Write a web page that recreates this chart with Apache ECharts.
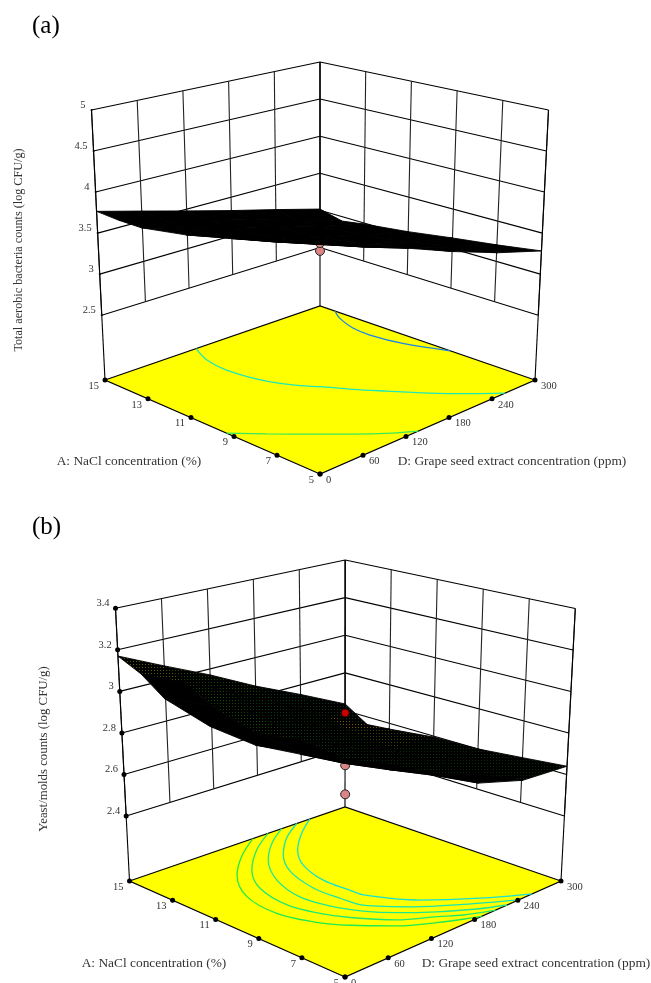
<!DOCTYPE html>
<html>
<head>
<meta charset="utf-8">
<style>html,body{margin:0;padding:0;background:#fff}#c{width:651px;height:983px}</style>
<script src="https://cdn.jsdelivr.net/npm/echarts@6/dist/echarts.min.js"></script>
</head>
<body>
<div id="c"></div>
<script>
// ---------- data ----------
const naclTicks = [5, 7, 9, 11, 13, 15];
const grapeTicks = [0, 60, 120, 180, 240, 300];
const aerobicTicks = [2.5, 3, 3.5, 4, 4.5, 5];
const yeastTicks = [2.4, 2.6, 2.8, 3, 3.2, 3.4];

const surfaceNacl = [5, 7, 9, 11, 13, 14, 15];
const surfaceGrape = [0, 60, 120, 180, 240, 300];

const aerobicSurface = [
  [4.28, 4.086, 3.876, 3.658, 3.456, 3.283],
  [4.134, 3.93, 3.73, 3.55, 3.37, 3.205],
  [3.99, 3.79, 3.60, 3.43, 3.27, 3.135],
  [3.854, 3.66, 3.50, 3.34, 3.19, 3.054],
  [3.755, 3.59, 3.44, 3.29, 3.13, 2.987],
  [3.75, 3.60, 3.45, 3.30, 3.12, 2.942],
  [3.765, 3.625, 3.478, 3.327, 3.178, 3.017]
];
const yeastSurface = [
  [3.047, 2.95, 2.84, 2.72, 2.654, 2.64],
  [3.0, 2.89, 2.79, 2.69, 2.62, 2.62],
  [2.97, 2.87, 2.77, 2.67, 2.60, 2.60],
  [2.983, 2.89, 2.79, 2.69, 2.61, 2.595],
  [3.04, 2.95, 2.85, 2.74, 2.64, 2.57],
  [3.12, 3.02, 2.92, 2.80, 2.68, 2.56],
  [3.17, 3.07, 2.97, 2.855, 2.75, 2.635]
];

const aerobicBelow = [[10, 150, 3.344], [10, 150, 3.44]];
const aerobicAbove = [];
const yeastBelow = [[10, 150, 2.531], [10, 150, 2.671]];
const yeastAbove = [[10, 150, 2.923]];

const aerobicContours = [
  [[14.3,300],[13.71,289],[12.77,279],[11.91,277],[10.58,283],[8.95,300]],
  [[15,127],[14.06,114],[13.02,110],[11.45,119],[10.42,135],[9.9,147],[8.97,165],[8.05,185],[6.7,214],[5.86,235],[5,258]],
  [[9.34,0],[8.4,28],[7.175,65],[6.4,88],[5.65,112],[5,137]]
];
const yeastContours = [
  [[15,251],[14.25,217],[13.3,183],[12.24,159],[10.88,146],[9.68,147],[9.08,148],[7.44,177],[6.06,220],[5,260]],
  [[15,233],[14.28,197],[13.3,163],[12.13,138],[10.62,125],[9.43,126],[8.5,130],[7.22,161],[6.13,198],[5,241]],
  [[15,212],[14.29,177],[13.33,143],[11.93,113],[10.43,100],[9.2,106],[8.16,120],[7.28,140],[6.37,168],[5.53,199],[5,225]],
  [[15,193],[14.2,153],[13.09,113],[11.8,86],[10.25,77],[9.03,86],[8.1,100],[6.86,128],[6.08,160],[5.53,180],[5,209]],
  [[15,172],[14.2,133],[13.11,93],[11.62,62],[10.0,55],[8.71,67],[7.67,87],[6.53,118],[5.75,150],[5.18,179],[5,190]]
];

// ---------- panel layout (screen placement of the 3D box) ----------
const panels = [
  {
    letter: '(a)', letterPos: [32, 26],
    yTitle: 'Total aerobic bacteria counts (log CFU/g)', yTitlePos: [19, 250], yTitleSize: 12.2,
    aTitlePos: [129, 461], dTitlePos: [512, 461],
    floor: { front: [320, 474], left: [105, 380], right: [535, 380], back: [320, 306] },
    top: { front: [320, 178], left: [91.5, 110], right: [548.5, 110], back: [320, 62] },
    zFloor: 1.71, zTop: 5, zTicks: aerobicTicks, surface: aerobicSurface,
    below: aerobicBelow, above: aerobicAbove, contours: aerobicContours,
    contourColors: ['#1a86e8', '#1fe8b8', '#3be85c'], zTickSize: 2, dots: false
  },
  {
    letter: '(b)', letterPos: [32, 527],
    yTitle: 'Yeast/molds counts (log CFU/g)', yTitlePos: [44, 749], yTitleSize: 12.8,
    aTitlePos: [154, 963], dTitlePos: [536, 963],
    floor: { front: [345, 977], left: [129.5, 881], right: [561, 881], back: [345, 807] },
    top: { front: [345, 679], left: [115.5, 608.3], right: [575.3, 608.5], back: [345.2, 560] },
    zFloor: 2.087, zTop: 3.4, zTicks: yeastTicks, surface: yeastSurface,
    below: yeastBelow, above: yeastAbove, contours: yeastContours,
    contourColors: ['#18e0d0', '#18e4b0', '#20e890', '#20e870', '#20e850'], zTickSize: 5, dots: true
  }
];

// ---------- projection ----------
function bil(c, s, t, k) {
  return (1 - s) * (1 - t) * c.front[k] + s * (1 - t) * c.left[k] + (1 - s) * t * c.right[k] + s * t * c.back[k];
}
function project(p, A, D, z) {
  const s = (A - 5) / 10, t = D / 300, h = (z - p.zFloor) / (p.zTop - p.zFloor);
  return [0, 1].map(k => bil(p.floor, s, t, k) * (1 - h) + bil(p.top, s, t, k) * h);
}

function dotPattern(color) {
  const cv = document.createElement('canvas');
  cv.width = 3; cv.height = 3;
  const g = cv.getContext('2d');
  g.fillStyle = '#000'; g.fillRect(0, 0, 3, 3);
  g.fillStyle = color; g.fillRect(1, 1, 1, 1);
  return { image: cv, repeat: 'repeat' };
}
const patterns = {};
function patternFor(c) { return patterns[c] || (patterns[c] = dotPattern(c)); }
function cellFill(p, A, D, z) {
  if (!p.dots) return '#000';
  const s = (A - 5) / 10, t = D / 300;
  if (s > 0.9 && t > 0.8) return patternFor('#0a3a1c');
  if (s > 0.8 && t > 0.8) return patternFor('#7a5c00');
  if (s > 0.6 && t > 0.8) return patternFor('#3a4400');
  if (s + t < 1.0) return '#000';
  if (z > 3.0) return patternFor('#5a5800');
  if (z > 2.85) return patternFor('#1a4608');
  if (z > 2.72) return patternFor('#0a3a1c');
  return patternFor('#0c300a');
}

// ---------- series builders ----------
const series = [];
const TEXT = '#333';
const FONT = '"Liberation Serif","Times New Roman",serif';

function lineSeries(pts, color, width, z, smooth) {
  series.push({
    type: 'line', data: pts, showSymbol: false, symbol: 'none', silent: true, animation: false,
    lineStyle: { color, width }, smooth: smooth || false, z, clip: false
  });
}
function polySeries(polys, z) {
  series.push({
    type: 'custom', coordinateSystem: 'cartesian2d', silent: true, animation: false, z, clip: false,
    data: polys.map((q, i) => [q.pts[0][0], q.pts[0][1], i]),
    renderItem(params, api) {
      const q = polys[params.dataIndex];
      return {
        type: 'polygon',
        shape: { points: q.pts.map(c => api.coord(c)) },
        style: { fill: q.fill, stroke: q.stroke || null, lineWidth: q.lw || 0 }
      };
    }
  });
}
function pointSeries(pts, size, color, border, z) {
  series.push({
    type: 'scatter', data: pts, symbol: 'circle', symbolSize: size, silent: true, animation: false, z, clip: false,
    itemStyle: { color, borderColor: border, borderWidth: border ? 1 : 0, opacity: 1 }
  });
}
function textSeries(items, z) {
  series.push({
    type: 'custom', coordinateSystem: 'cartesian2d', silent: true, animation: false, z, clip: false,
    data: items.map(it => [it.at[0], it.at[1]]),
    renderItem(params, api) {
      const it = items[params.dataIndex];
      const c = api.coord(it.at);
      return {
        type: 'text', x: c[0] + it.dx, y: c[1] + it.dy,
        style: { text: it.text, fill: TEXT, font: '10.5px ' + FONT, align: it.align, verticalAlign: 'middle' }
      };
    }
  });
}

const graphic = [];
panels.forEach(p => {
  const zLow = p.zTicks[0], zHigh = p.zTicks[p.zTicks.length - 1];
  // walls: A = 15 plane (left) and D = 300 plane (right)
  p.zTicks.forEach(z => {
    lineSeries([project(p, 15, 0, z), project(p, 15, 300, z), project(p, 5, 300, z)], '#000', 1.1, 2);
  });
  grapeTicks.forEach(D => lineSeries([project(p, 15, D, zLow), project(p, 15, D, zHigh)], '#222', 1.1, 2));
  naclTicks.forEach(A => lineSeries([project(p, A, 300, zLow), project(p, A, 300, zHigh)], '#222', 1.1, 2));
  // edges that run down to the floor
  lineSeries([project(p, 15, 0, p.zFloor), project(p, 15, 0, zHigh)], '#000', 1.1, 2);
  lineSeries([project(p, 15, 300, p.zFloor), project(p, 15, 300, zHigh)], '#000', 1.1, 2);
  lineSeries([project(p, 5, 300, p.zFloor), project(p, 5, 300, zHigh)], '#000', 1.1, 2);
  // floor
  polySeries([{
    pts: [project(p, 5, 0, p.zFloor), project(p, 15, 0, p.zFloor), project(p, 15, 300, p.zFloor), project(p, 5, 300, p.zFloor)],
    fill: '#ffff00', stroke: '#000', lw: 1.2
  }], 3);
  p.contours.forEach((c, i) => {
    lineSeries(c.map(a => project(p, a[0], a[1], p.zFloor)), p.contourColors[i], 1.3, 4, 0.35);
  });
  // ticks on floor
  pointSeries(naclTicks.map(A => project(p, A, 0, p.zFloor)).concat(grapeTicks.map(D => project(p, 5, D, p.zFloor))), 5, '#000', null, 5);
  pointSeries(p.zTicks.map(z => project(p, 15, 0, z)), p.zTickSize, '#000', null, 5);
  // design points under the surface
  pointSeries(p.below.map(b => project(p, b[0], b[1], b[2])), 9, '#d98585', '#222', 6);
  // surface, far cells first
  const cells = [];
  for (let i = surfaceNacl.length - 2; i >= 0; i--) {
    for (let j = surfaceGrape.length - 2; j >= 0; j--) {
      const A0 = surfaceNacl[i], A1 = surfaceNacl[i + 1], D0 = surfaceGrape[j], D1 = surfaceGrape[j + 1];
      const S = p.surface;
      const mean = (S[i][j] + S[i + 1][j] + S[i][j + 1] + S[i + 1][j + 1]) / 4;
      cells.push({
        pts: [project(p, A0, D0, S[i][j]), project(p, A1, D0, S[i + 1][j]), project(p, A1, D1, S[i + 1][j + 1]), project(p, A0, D1, S[i][j + 1])],
        fill: cellFill(p, (A0 + A1) / 2, (D0 + D1) / 2, mean), stroke: '#000', lw: 0.9
      });
    }
  }
  polySeries(cells, 7);
  pointSeries(p.above.map(b => project(p, b[0], b[1], b[2])), 8, '#c80000', '#300', 8);
  // tick labels
  const labels = [];
  naclTicks.forEach(A => labels.push({ at: project(p, A, 0, p.zFloor), dx: -6, dy: 6, align: 'right', text: String(A) }));
  grapeTicks.forEach(D => labels.push({ at: project(p, 5, D, p.zFloor), dx: 6, dy: 6, align: 'left', text: String(D) }));
  p.zTicks.forEach(z => labels.push({ at: project(p, 15, 0, z), dx: -6, dy: -5, align: 'right', text: String(z) }));
  textSeries(labels, 9);
  // titles
  graphic.push({ type: 'text', x: p.letterPos[0], y: p.letterPos[1], silent: true,
    style: { text: p.letter, font: '25px ' + FONT, fill: '#000', align: 'left', verticalAlign: 'middle' } });
  graphic.push({ type: 'text', x: p.yTitlePos[0], y: p.yTitlePos[1], rotation: Math.PI / 2, silent: true,
    style: { text: p.yTitle, font: p.yTitleSize + 'px ' + FONT, fill: TEXT, align: 'center', verticalAlign: 'middle' } });
  graphic.push({ type: 'text', x: p.aTitlePos[0], y: p.aTitlePos[1], silent: true,
    style: { text: 'A: NaCl concentration (%)', font: '13.4px ' + FONT, fill: TEXT, align: 'center', verticalAlign: 'middle' } });
  graphic.push({ type: 'text', x: p.dTitlePos[0], y: p.dTitlePos[1], silent: true,
    style: { text: 'D: Grape seed extract concentration (ppm)', font: '13.4px ' + FONT, fill: TEXT, align: 'center', verticalAlign: 'middle' } });
});

const chart = echarts.init(document.getElementById('c'), null, { renderer: 'canvas', width: 651, height: 983 });
chart.setOption({
  animation: false,
  backgroundColor: '#fff',
  grid: { left: 0, right: 0, top: 0, bottom: 0, containLabel: false },
  xAxis: { type: 'value', min: 0, max: 651, show: false },
  yAxis: { type: 'value', min: 0, max: 983, inverse: true, show: false },
  tooltip: { show: false },
  legend: { show: false },
  graphic: graphic,
  series: series
});
</script>
</body>
</html>
